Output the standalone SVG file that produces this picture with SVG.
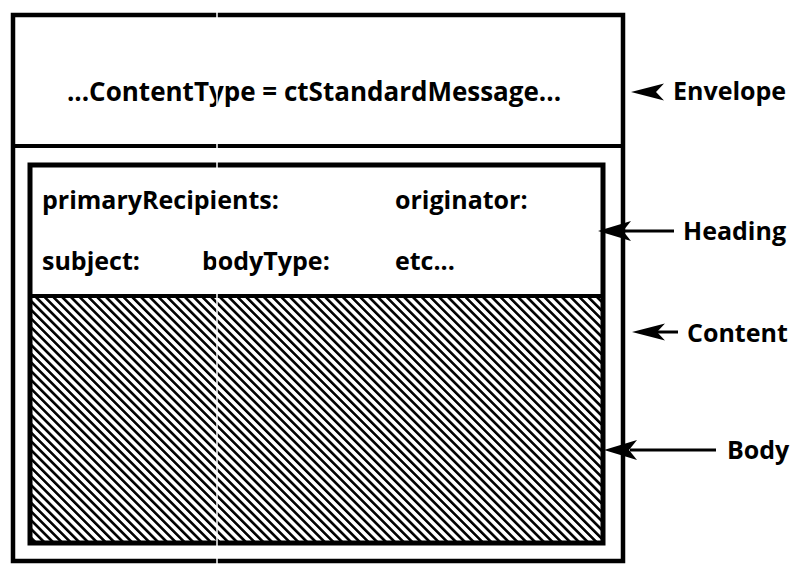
<svg xmlns="http://www.w3.org/2000/svg" width="793" height="564" viewBox="0 0 793 564">
<style>
text{font-family:"Open Sans","Noto Sans","Liberation Sans",sans-serif;font-weight:bold;fill:#000;}
.f{font-size:25px;}
.big{font-size:26px;}
.box{fill:none;stroke:#000;}
.conn line{stroke:#000;stroke-width:3;}
</style>
<defs>
<pattern id="hatch" patternUnits="userSpaceOnUse" width="6.2" height="6.2" patternTransform="rotate(-45)">
<rect width="6.2" height="6.2" fill="#fff"/>
<rect x="0" y="0" width="2.6" height="6.2" fill="#000"/>
</pattern>
<path id="ah" d="M0,0 L33,-10 L25,0 L33,10 Z"/>
</defs>
<rect width="793" height="564" fill="#fff"/>
<g id="envelope">
<rect class="box" x="13" y="15" width="610" height="546" stroke-width="4.5"/>
<line x1="13" y1="146" x2="623" y2="146" stroke="#000" stroke-width="4"/>
<text class="big" x="314" y="101" text-anchor="middle">...ContentType = ctStandardMessage...</text>
</g>
<g id="content">
<rect x="30" y="296" width="573" height="247" fill="url(#hatch)"/>
<rect class="box" x="30" y="165" width="573" height="378" stroke-width="5"/>
<line x1="30" y1="296" x2="603" y2="296" stroke="#000" stroke-width="4"/>
</g>
<g id="heading">
<text class="f" x="42" y="209">primaryRecipients:</text>
<text class="f" x="395" y="209">originator:</text>
<text class="f" x="42" y="270">subject:</text>
<text class="f" x="202" y="270">bodyType:</text>
<text class="f" x="395" y="270">etc...</text>
</g>
<g id="connectors" class="conn">
<use href="#ah" transform="translate(631,92) scale(1,0.85)"/>
<line x1="625" y1="231" x2="674" y2="231"/>
<use href="#ah" transform="translate(598,231)"/>
<line x1="655" y1="332" x2="678" y2="332"/>
<use href="#ah" transform="translate(632,332) scale(1,0.85)"/>
<line x1="630" y1="450" x2="716" y2="450"/>
<use href="#ah" transform="translate(604,450)"/>
</g>
<g id="labels">
<text class="f" x="673" y="100">Envelope</text>
<text class="f" x="683" y="240">Heading</text>
<text class="f" x="687" y="342">Content</text>
<text class="f" x="727" y="459">Body</text>
</g>
<line x1="217" y1="0" x2="217" y2="564" stroke="#fff" stroke-width="1.5"/>
</svg>
